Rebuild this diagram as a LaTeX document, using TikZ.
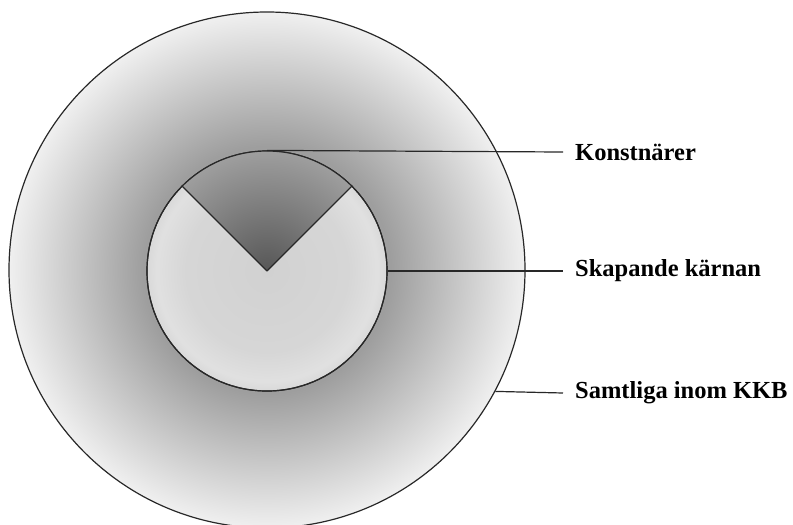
\documentclass[tikz,border=0pt]{standalone}
\usepackage{fontspec}
\setmainfont{Liberation Serif}
\usepackage{tikz}
\usetikzlibrary{positioning,calc}
\definecolor{cLine}{RGB}{40,40,40}
\pgfdeclareradialshading{ringshade}{\pgfpointorigin}{%
  color(0bp)=(black!45); color(12bp)=(black!38); color(25bp)=(black!6); color(50bp)=(black!6)}
\pgfdeclareradialshading{coreshade}{\pgfpointorigin}{%
  color(0bp)=(black!18); color(17bp)=(black!16); color(23bp)=(black!12); color(25bp)=(black!15); color(50bp)=(black!15)}
\pgfdeclareradialshading{wedgeshade}{\pgfpointorigin}{%
  color(0bp)=(black!66); color(25bp)=(black!38); color(50bp)=(black!38)}
\tikzset{
  ring/.style={circle,draw=cLine,line width=1.2pt,inner sep=0pt},
  lbl/.style={anchor=west,inner xsep=12pt,inner ysep=0pt,
              font=\fontsize{24.5}{28}\selectfont\bfseries},
  lead/.style={draw=cLine,line width=1.2pt}
}
\begin{document}
\begin{tikzpicture}[x=1pt,y=-1pt]
  \useasboundingbox (0,0) rectangle (793,525);
  % rings
  \node[ring,shading=ringshade,minimum size=516pt] (outer) at (267,270) {};
  \node[ring,shading=coreshade,minimum size=240pt] (core) at (267,271) {};
  \coordinate (tip) at (core.center);
  % wedge
  \begin{scope}
    \clip (tip) -- (core.135) arc[start angle=135,end angle=45,radius=120pt] -- cycle;
    \shade[shading=wedgeshade] (tip) circle[radius=120pt];
  \end{scope}
  \draw[cLine,line width=1.2pt,line join=round]
    (core.135) -- (tip) -- (core.45);
  \node[ring,minimum size=240pt] at (core.center) {};
  % labels
  \node[lbl] (konst) at (563,152) {Konstnärer};
  \node[lbl] (skap) at (563,271) {Skapande kärnan};
  \node[lbl] (kkb) at (563,393) {Samtliga inom KKB};
  \path[lead] (core.north) -- (konst.west);
  \path[lead] (core.east) -- (skap.west);
  \path[lead] (outer.-28.5) -- (kkb.west);
\end{tikzpicture}
\end{document}
